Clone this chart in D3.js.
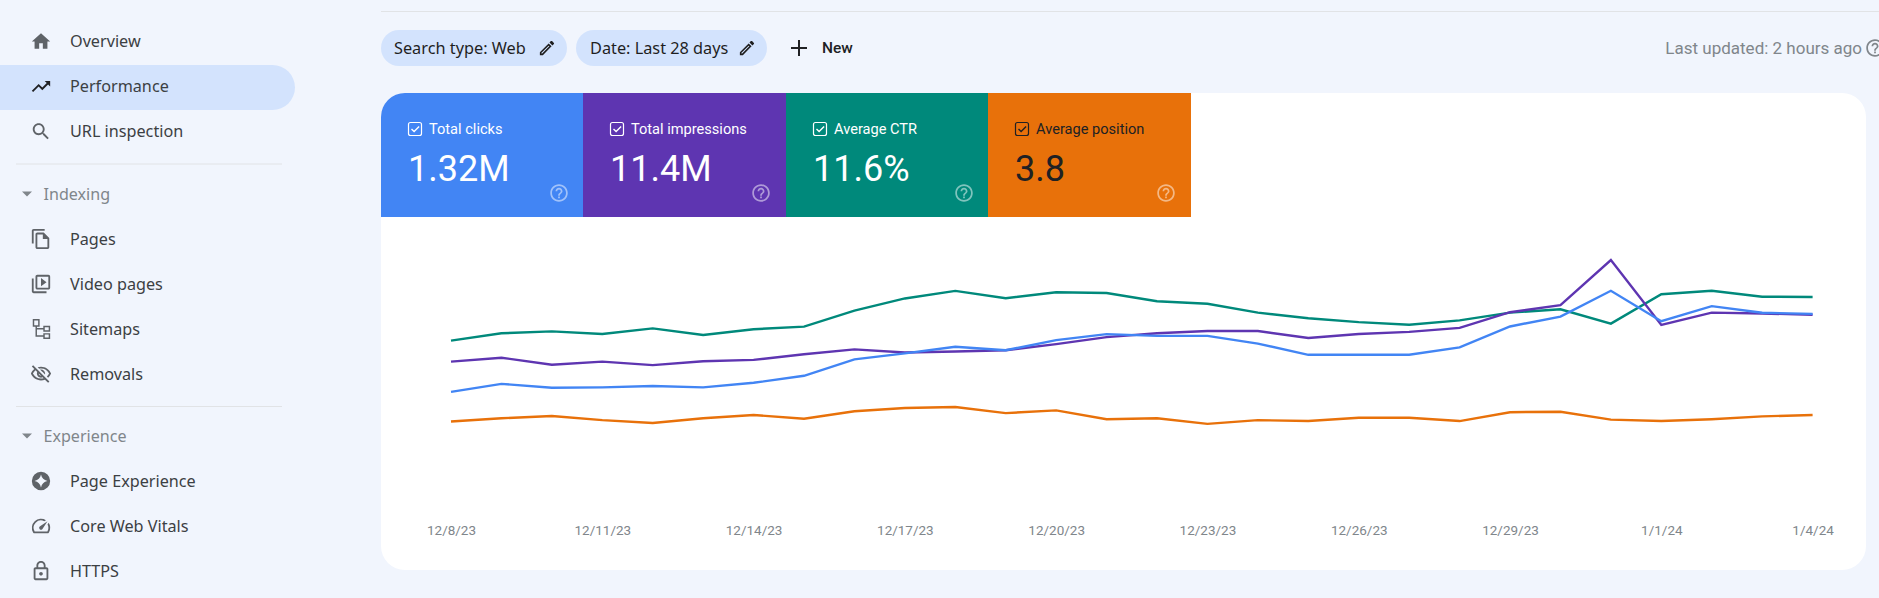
<!DOCTYPE html>
<html>
<head>
<meta charset="utf-8">
<title>Performance</title>
<script src="https://cdn.jsdelivr.net/npm/d3@7"></script>
<style>
  html, body { margin: 0; padding: 0; background: #f1f5fd; overflow: hidden; }
  svg { display: block; }
  text { font-family: Roboto, sans-serif; }
  .nav { font-family: "Noto Sans", sans-serif; font-size: 16.2px; fill: #3c4043; }
  .section { font-family: "Noto Sans", sans-serif; font-size: 16.1px; fill: #80868b; }
  .chip { font-family: "Noto Sans", sans-serif; font-size: 16.3px; fill: #1f1f1f; }
  .x-axis text { font-size: 13.5px; fill: #80868b; }
</style>
</head>
<body>
<div id="chart"></div>
<script>
// daily values, 12/8/23 to 1/4/24
var dates = ["2023-12-08","2023-12-09","2023-12-10","2023-12-11","2023-12-12","2023-12-13","2023-12-14",
  "2023-12-15","2023-12-16","2023-12-17","2023-12-18","2023-12-19","2023-12-20","2023-12-21",
  "2023-12-22","2023-12-23","2023-12-24","2023-12-25","2023-12-26","2023-12-27","2023-12-28",
  "2023-12-29","2023-12-30","2023-12-31","2024-01-01","2024-01-02","2024-01-03","2024-01-04"];
var clicks = [36600,38900,37800,37900,38300,37900,39200,41200,45900,47600,49500,48500,51400,53100,
  52600,52600,50400,47200,47200,47200,49300,55300,58100,65500,56800,61100,59200,58900];
var impressions = [362000,371000,355000,362000,354000,363000,366000,379000,390000,383000,385000,388000,402000,418000,
  427000,432000,432000,416000,425000,430000,439000,475000,491000,594000,446000,474000,472000,469000];
var ctr = [10.25,10.67,10.78,10.63,10.95,10.57,10.90,11.05,11.96,12.66,13.09,12.67,13.01,12.97,
  12.50,12.36,11.85,11.53,11.31,11.16,11.41,11.85,12.04,11.22,12.90,13.10,12.76,12.74];
var position = [3.89,3.82,3.77,3.86,3.92,3.82,3.75,3.83,3.67,3.60,3.58,3.71,3.65,3.84,
  3.82,3.94,3.86,3.88,3.81,3.81,3.88,3.69,3.68,3.85,3.88,3.84,3.78,3.75];
var tickDates = ["2023-12-08","2023-12-11","2023-12-14","2023-12-17","2023-12-20","2023-12-23",
  "2023-12-26","2023-12-29","2024-01-01","2024-01-04"];

var tileLabels = ["Total clicks", "Total impressions", "Average CTR", "Average position"];
var tileValues = ["1.32M", "11.4M", "11.6%", "3.8"];
var tileColors = ["#4285f4", "#5e35b1", "#00897b", "#e8710a"];
var tileInk = ["#ffffff", "#ffffff", "#ffffff", "#202124"];

var navTop = ["Overview", "Performance", "URL inspection"];
var navIndexing = ["Pages", "Video pages", "Sitemaps", "Removals"];
var navExperience = ["Page Experience", "Core Web Vitals", "HTTPS"];

var icons = {
  "Overview": "M10 20v-6h4v6h5v-8h3L12 3 2 12h3v8z",
  "Performance": "M16 6l2.29 2.29-4.88 4.88-4-4L2 16.59 3.41 18l6-6 4 4 6.3-6.29L22 12V6z",
  "URL inspection": "M15.5 14h-.79l-.28-.27C15.41 12.59 16 11.11 16 9.5 16 5.91 13.09 3 9.5 3S3 5.91 3 9.5 5.91 16 9.5 16c1.61 0 3.09-.59 4.23-1.57l.27.28v.79l5 4.99L20.49 19l-4.99-5zm-6 0C7.01 14 5 11.99 5 9.5S7.01 5 9.5 5 14 7.01 14 9.5 11.99 14 9.5 14z",
  "Pages": "M16 1H4c-1.1 0-2 .9-2 2v14h2V3h12V1zm-1 4H8c-1.1 0-1.99.9-1.99 2L6 21c0 1.1.89 2 1.99 2H19c1.1 0 2-.9 2-2V11l-6-6zM8 21V7h6v5h5v9H8z",
  "Video pages": "M4 6H2v14c0 1.1.9 2 2 2h14v-2H4V6zm16-4H8c-1.1 0-2 .9-2 2v12c0 1.1.9 2 2 2h12c1.1 0 2-.9 2-2V4c0-1.1-.9-2-2-2zm0 14H8V4h12v12zM12 5.5v9l6-4.5z",
  "Sitemaps": "M3 1h7.5v8.5H3zm1.6 1.6v5.3h4.3V2.6zM14.5 8.5H22V15h-7.5zm1.6 1.6v3.3h4.3v-3.3zM14.5 16.5H22V23h-7.5zm1.6 1.6v3.3h4.3v-3.3zM6 9.5h1.6V11h6.9v1.6H7.6v6.3h6.9v1.6H6z",
  "Removals": "M12 6c3.79 0 7.17 2.13 8.82 5.5-.59 1.22-1.42 2.27-2.41 3.12l1.41 1.41c1.39-1.23 2.49-2.77 3.18-4.53C21.27 7.11 17 4 12 4c-1.27 0-2.49.2-3.64.57l1.65 1.65C10.66 6.09 11.32 6 12 6zm-1.07 1.14L13 9.21c.57.25 1.03.71 1.28 1.28l2.07 2.07c.08-.34.14-.7.14-1.07C16.5 9.01 14.48 7 12 7c-.37 0-.72.05-1.07.14zM2.01 3.87l2.68 2.68C3.06 7.83 1.77 9.53 1 11.5 2.73 15.89 7 19 12 19c1.52 0 2.98-.29 4.32-.82l3.42 3.42 1.41-1.41L3.42 2.45 2.01 3.87zm7.5 7.5l2.61 2.61c-.04.01-.08.02-.12.02-1.38 0-2.5-1.12-2.5-2.5 0-.05.01-.08.01-.13zm-3.4-3.4l1.75 1.75c-.23.55-.36 1.15-.36 1.78 0 2.48 2.02 4.5 4.5 4.5.63 0 1.23-.13 1.77-.36l.98.98c-.88.24-1.8.38-2.75.38-3.79 0-7.17-2.13-8.82-5.5.7-1.43 1.72-2.61 2.93-3.53z",
  "Page Experience": "M12 2a10 10 0 1 0 0 20 10 10 0 0 0 0-20zm0 3c.9 3.9 3.1 6.1 7 7-3.9.9-6.1 3.1-7 7-.9-3.9-3.1-6.1-7-7 3.9-.9 6.1-3.1 7-7z",
  "Core Web Vitals": "M20.38 8.57l-1.23 1.85a8 8 0 0 1-.22 7.58H5.07A8 8 0 0 1 15.58 6.85l1.85-1.23A10 10 0 0 0 3.35 19a2 2 0 0 0 1.72 1h13.85a2 2 0 0 0 1.74-1 10 10 0 0 0-.27-10.44zm-9.79 6.84a2 2 0 0 0 2.83 0l5.66-8.49-8.49 5.66a2 2 0 0 0 0 2.83z",
  "HTTPS": "M18 8h-1V6c0-2.76-2.24-5-5-5S7 3.24 7 6v2H6c-1.1 0-2 .9-2 2v10c0 1.1.9 2 2 2h12c1.1 0 2-.9 2-2V10c0-1.1-.9-2-2-2zM9 6c0-1.66 1.34-3 3-3s3 1.34 3 3v2H9V6zm9 14H6V10h12v10zm-6-3c1.1 0 2-.9 2-2s-.9-2-2-2-2 .9-2 2 .9 2 2 2z"
};
var pencilPath = "M3 17.25V21h3.75L17.81 9.94l-3.75-3.75L3 17.25zM5.92 19H5v-.92l9.06-9.06.92.92L5.92 19zM20.71 5.63l-2.34-2.34c-.2-.2-.45-.29-.71-.29s-.51.1-.7.29l-1.83 1.83 3.75 3.75 1.83-1.83c.39-.39.39-1.02 0-1.41z";
var helpPath = "M11 18h2v-2h-2v2zm1-16C6.48 2 2 6.48 2 12s4.48 10 10 10 10-4.48 10-10S17.52 2 12 2zm0 18c-4.41 0-8-3.59-8-8s3.59-8 8-8 8 3.59 8 8-3.59 8-8 8zm0-14c-2.21 0-4 1.79-4 4h2c0-1.1.9-2 2-2s2 .9 2 2c0 2-3 1.75-3 5h2c0-2.25 3-2.5 3-5 0-2.21-1.79-4-4-4z";

var width = 1879, height = 598;
var parseDate = d3.timeParse("%Y-%m-%d");

var svg = d3.select("#chart").append("svg")
  .attr("width", width)
  .attr("height", height);

// icon helper, paths are drawn in a 24 box
function icon(path, cx, cy, size, fill, opacity) {
  var k = size / 24;
  svg.append("path")
    .attr("d", path)
    .attr("transform", "translate(" + (cx - size / 2) + "," + (cy - size / 2) + ") scale(" + k + ")")
    .attr("fill", fill)
    .attr("opacity", opacity === undefined ? 1 : opacity);
}

// sidebar
svg.append("path")
  .attr("d", "M0 65H272.5a22.5 22.5 0 0 1 0 45H0z")
  .attr("fill", "#d3e3fd");

function navGroup(labels, startY) {
  labels.forEach(function(name, i) {
    var y = startY + i * 45;
    icon(icons[name], 41, y, 22, name === "Performance" ? "#202124" : "#5f6368");
    svg.append("text")
      .attr("class", "nav")
      .attr("x", 70)
      .attr("y", y)
      .attr("dy", "0.35em")
      .text(name);
  });
}
navGroup(navTop, 41.5);
navGroup(navIndexing, 239);
navGroup(navExperience, 481);

[164, 406.5].forEach(function(y) {
  svg.append("line")
    .attr("x1", 16).attr("x2", 282)
    .attr("y1", y).attr("y2", y)
    .attr("stroke", "#e1e3e6");
});

[["Indexing", 194], ["Experience", 436]].forEach(function(s) {
  svg.append("path")
    .attr("d", "M22 " + (s[1] - 2.5) + "h10l-5 5z")
    .attr("fill", "#80868b");
  svg.append("text")
    .attr("class", "section")
    .attr("x", 43.5)
    .attr("y", s[1])
    .attr("dy", "0.35em")
    .text(s[0]);
});

// top bar
svg.append("line")
  .attr("x1", 381).attr("x2", width)
  .attr("y1", 11.5).attr("y2", 11.5)
  .attr("stroke", "#e1e3e6");

[["Search type: Web", 381, 186, 394, 547], ["Date: Last 28 days", 576, 191, 590, 747]].forEach(function(c) {
  svg.append("rect")
    .attr("x", c[1]).attr("y", 30)
    .attr("width", c[2]).attr("height", 36)
    .attr("rx", 18)
    .attr("fill", "#d3e3fd");
  svg.append("text")
    .attr("class", "chip")
    .attr("x", c[3]).attr("y", 48)
    .attr("dy", "0.35em")
    .text(c[0]);
  icon(pencilPath, c[4], 48, 19, "#1f1f1f");
});

svg.append("path")
  .attr("d", "M799 40v16M791 48h16")
  .attr("stroke", "#202124")
  .attr("stroke-width", 2);
svg.append("text")
  .attr("x", 822).attr("y", 47.5)
  .attr("dy", "0.35em")
  .attr("font-size", 15.5)
  .attr("font-weight", 500)
  .attr("fill", "#202124")
  .text("New");

svg.append("text")
  .attr("x", 1862).attr("y", 48)
  .attr("dy", "0.35em")
  .attr("text-anchor", "end")
  .attr("font-size", 17)
  .attr("fill", "#80868b")
  .text("Last updated: 2 hours ago");
icon(helpPath, 1875, 48, 21, "#80868b");

// card
svg.append("rect")
  .attr("x", 381).attr("y", 93)
  .attr("width", 1485).attr("height", 477)
  .attr("rx", 24)
  .attr("fill", "#ffffff");

// tiles
var tileX = d3.scaleBand()
  .domain(tileLabels)
  .range([381, 1191]);

tileLabels.forEach(function(label, i) {
  var x = Math.floor(tileX(label));
  var x2 = Math.floor(tileX(label) + tileX.bandwidth());
  var ink = tileInk[i];
  svg.append("path")
    .attr("d", i === 0
      ? "M" + x + " 217V117a24 24 0 0 1 24-24H" + x2 + "V217z"
      : "M" + x + " 93H" + x2 + "V217H" + x + "z")
    .attr("fill", tileColors[i]);
  svg.append("rect")
    .attr("x", x + 27.5).attr("y", 122.5)
    .attr("width", 13).attr("height", 13)
    .attr("rx", 2)
    .attr("fill", "none")
    .attr("stroke", ink)
    .attr("stroke-width", 1.2);
  svg.append("path")
    .attr("d", "M" + (x + 30.5) + " 129l2.6 2.6 5-5.2")
    .attr("fill", "none")
    .attr("stroke", ink)
    .attr("stroke-width", 1.4);
  svg.append("text")
    .attr("x", x + 48).attr("y", 134)
    .attr("font-size", 14.6)
    .attr("fill", ink)
    .text(label);
  svg.append("text")
    .attr("x", x + 27).attr("y", 181)
    .attr("font-size", 36)
    .attr("fill", ink)
    .text(tileValues[i]);
  icon(helpPath, x + 178, 193, 21, "#ffffff", 0.5);
});

// chart
var x = d3.scaleTime()
  .domain([parseDate(dates[0]), parseDate(dates[dates.length - 1])])
  .range([451, 1812.6]);

var yTop = 240, yBottom = 520;
var yClicks = d3.scaleLinear().domain([0, 80000]).range([yBottom, yTop]);
var yImpressions = d3.scaleLinear().domain([0, 640000]).range([yBottom, yTop]);
var yCtr = d3.scaleLinear().domain([0, 16]).range([yBottom, yTop]);
var yPosition = d3.scaleLinear().domain([0, 6]).range([yTop, yBottom]);

// same stacking as the reference, blue ends up on top
var series = [
  { values: ctr, y: yCtr, color: tileColors[2] },
  { values: position, y: yPosition, color: tileColors[3] },
  { values: impressions, y: yImpressions, color: tileColors[1] },
  { values: clicks, y: yClicks, color: tileColors[0] }
];

series.forEach(function(s) {
  var line = d3.line()
    .x(function(d, i) { return x(parseDate(dates[i])); })
    .y(function(d) { return s.y(d); });
  svg.append("path")
    .datum(s.values)
    .attr("d", line)
    .attr("fill", "none")
    .attr("stroke", s.color)
    .attr("stroke-width", 2.4);
});

var xAxis = d3.axisBottom(x)
  .tickValues(tickDates.map(parseDate))
  .tickSize(0)
  .tickPadding(0)
  .tickFormat(function(d) {
    return (d.getMonth() + 1) + "/" + d.getDate() + "/" + d3.timeFormat("%y")(d);
  });

svg.append("g")
  .attr("class", "x-axis")
  .attr("transform", "translate(0,525)")
  .call(xAxis)
  .call(function(g) { g.select(".domain").remove(); });
</script>
</body>
</html>
